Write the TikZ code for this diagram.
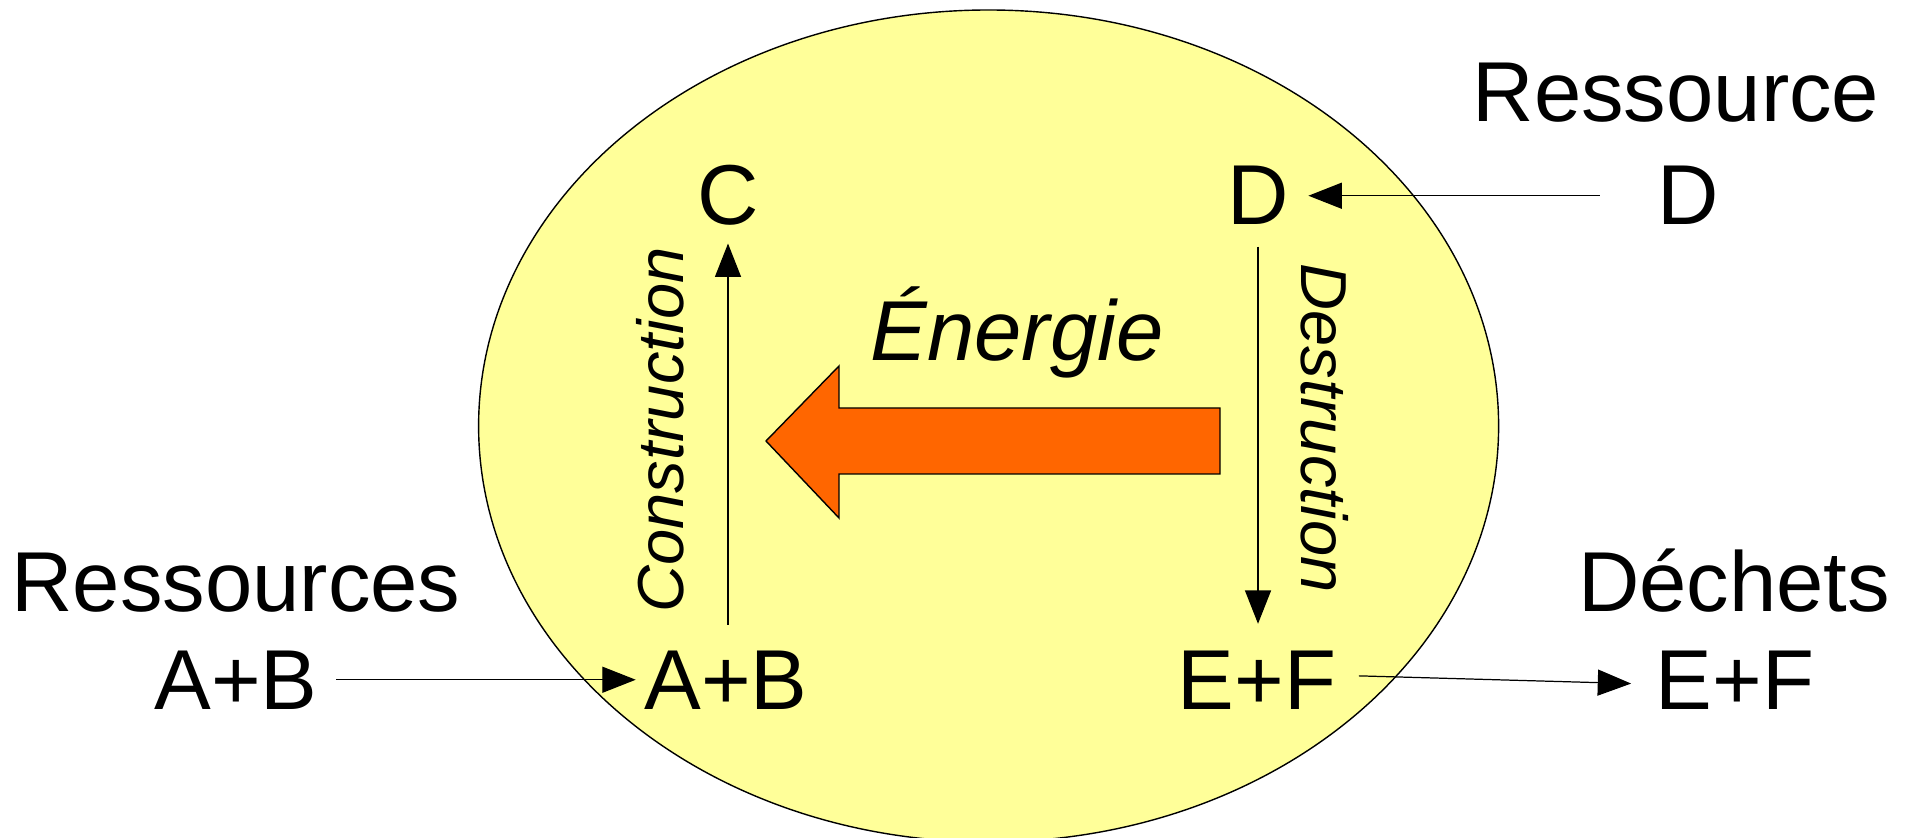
\documentclass[tikz,border=0pt]{standalone}
\usepackage{fontspec}
\setmainfont{Liberation Sans}
\usepackage{tikz}
\usetikzlibrary{arrows.meta}
\definecolor{cellyellow}{HTML}{FFFF99}
\definecolor{energyorange}{HTML}{FF6600}
\tikzset{
  txtnode/.style={inner sep=0pt,anchor=base,font=\fontsize{24.2}{29}\selectfont},
  rotnode/.style={inner sep=0pt,font=\fontsize{18.5}{22}\selectfont\itshape},
  flowedge/.style={-{Triangle[length=9.5pt,width=7.4pt]},line width=0.35pt,black},
  cellbody/.style={draw=black,line width=0.4pt,fill=cellyellow},
  energyarrow/.style={draw=black,line width=0.4pt,fill=energyorange},
}

\begin{document}
\begin{tikzpicture}
  \useasboundingbox (0,0) rectangle (19.09,8.37);
  \draw[cellbody] (9.886,4.11) ellipse [x radius=5.10, y radius=4.16];
  % energy arrow
  \draw[energyarrow] (7.66,3.96) -- (8.39,4.71) -- (8.39,4.29) -- (12.20,4.29)
    -- (12.20,3.63) -- (8.39,3.63) -- (8.39,3.19) -- cycle;
  \node[txtnode,font=\fontsize{24.2}{29}\selectfont\itshape] (nrj) at (10.17,4.76) {Énergie};
  % inside the cell
  \node[txtnode] (cI) at (7.28,6.12) {C};
  \node[txtnode] (dI) at (12.58,6.12) {D};
  \node[txtnode] (abI) at (7.26,1.28) {A+B};
  \node[txtnode] (efI) at (12.57,1.28) {E+F};
  \node[rotnode,rotate=90] (constr) at (6.60,4.07) {Construction};
  \node[rotnode,rotate=-90] (destr) at (13.25,4.09) {Destruction};
  % outside
  \node[txtnode] (resT) at (16.76,7.15) {Ressource};
  \node[txtnode] (dO) at (16.88,6.12) {D};
  \node[txtnode] (resL) at (2.36,2.26) {Ressources};
  \node[txtnode] (abL) at (2.36,1.28) {A+B};
  \node[txtnode] (dech) at (17.34,2.26) {Déchets};
  \node[txtnode] (efO) at (17.35,1.28) {E+F};
  % flows
  \draw[flowedge,shorten <=0.18cm,shorten >=0.08cm] (abL.east) -- (abI.west);
  \draw[flowedge,shorten <=0.25cm,shorten >=0.17cm] (abI.north -| cI.south) -- (cI.south);
  \draw[flowedge,shorten <=0.57cm,shorten >=0.19cm] (dO.west) -- (dI.east);
  \draw[flowedge,shorten <=0.21cm,shorten >=0.26cm] (dI.south) -- (efI.north -| dI.south);
  \draw[flowedge,shorten <=0.22cm,shorten >=0.24cm] ([yshift=0.045cm]efI.east) -- ([yshift=-0.045cm]efO.west);
\end{tikzpicture}
\end{document}
